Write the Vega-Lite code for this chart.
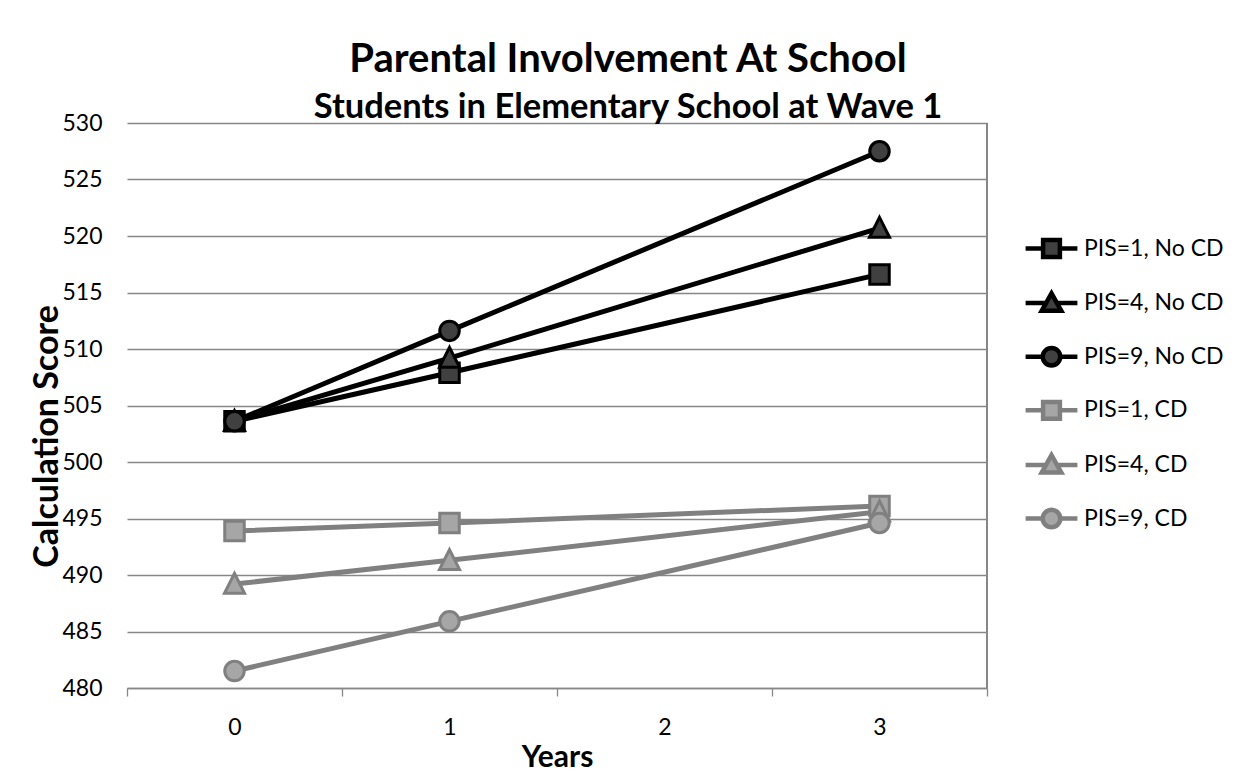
{
  "$schema": "https://vega.github.io/schema/vega-lite/v6.json",
  "width": 860,
  "height": 565,
  "autosize": {"type": "none"},
  "padding": {"left": 127, "top": 123, "right": 268, "bottom": 85},
  "background": "white",
  "title": {
    "text": "Parental Involvement At School",
    "subtitle": "Students in Elementary School at Wave 1",
    "anchor": "middle",
    "frame": "group",
    "dx": 71,
    "offset": -12,
    "font": "Lato",
    "fontSize": 40,
    "fontWeight": "bold",
    "color": "black",
    "subtitleFont": "Lato",
    "subtitleFontSize": 34.5,
    "subtitleFontWeight": "bold",
    "subtitleColor": "black",
    "subtitlePadding": 11
  },
  "data": {
    "values": [
      {"series": "PIS=1, No CD", "year": 0, "score": 503.6},
      {"series": "PIS=1, No CD", "year": 1, "score": 507.9},
      {"series": "PIS=1, No CD", "year": 3, "score": 516.6},
      {"series": "PIS=4, No CD", "year": 0, "score": 503.6},
      {"series": "PIS=4, No CD", "year": 1, "score": 509.2},
      {"series": "PIS=4, No CD", "year": 3, "score": 520.7},
      {"series": "PIS=9, No CD", "year": 0, "score": 503.6},
      {"series": "PIS=9, No CD", "year": 1, "score": 511.6},
      {"series": "PIS=9, No CD", "year": 3, "score": 527.5},
      {"series": "PIS=1, CD", "year": 0, "score": 493.9},
      {"series": "PIS=1, CD", "year": 1, "score": 494.6},
      {"series": "PIS=1, CD", "year": 3, "score": 496.1},
      {"series": "PIS=4, CD", "year": 0, "score": 489.2},
      {"series": "PIS=4, CD", "year": 1, "score": 491.3},
      {"series": "PIS=4, CD", "year": 3, "score": 495.6},
      {"series": "PIS=9, CD", "year": 0, "score": 481.5},
      {"series": "PIS=9, CD", "year": 1, "score": 485.9},
      {"series": "PIS=9, CD", "year": 3, "score": 494.6}
    ]
  },
  "encoding": {
    "x": {
      "field": "year",
      "type": "quantitative",
      "scale": {"domain": [-0.5, 3.5], "nice": false, "zero": false},
      "axis": {
        "title": "Years",
        "values": [-0.5, 0, 0.5, 1, 1.5, 2, 2.5, 3, 3.5],
        "labelExpr": "datum.value % 1 === 0 ? '' + datum.value : ''",
        "grid": false,
        "domainColor": "#878787",
        "domainWidth": 1.3,
        "tickColor": "#878787",
        "tickWidth": 1.3,
        "tickSize": 8,
        "tickOpacity": {"condition": {"test": "datum.value % 1 === 0", "value": 0}, "value": 1},
        "labelPadding": 20,
        "labelFont": "Lato",
        "labelFontSize": 23,
        "labelColor": "black",
        "labelFlush": false,
        "titleFont": "Lato",
        "titleFontSize": 30,
        "titleFontWeight": "bold",
        "titleColor": "black",
        "titlePadding": 3
      }
    },
    "y": {
      "field": "score",
      "type": "quantitative",
      "scale": {"domain": [480, 530], "nice": false, "zero": false},
      "axis": {
        "title": "Calculation Score",
        "values": [480, 485, 490, 495, 500, 505, 510, 515, 520, 525, 530],
        "grid": true,
        "gridColor": "#878787",
        "gridWidth": 1.3,
        "domain": false,
        "ticks": false,
        "labelPadding": 25,
        "labelFont": "Lato",
        "labelFontSize": 23,
        "labelColor": "black",
        "labelFlush": false,
        "titleFont": "Lato",
        "titleFontSize": 34,
        "titleFontWeight": "bold",
        "titleColor": "black",
        "titleX": -80,
        "titleY": 313,
        "titleAlign": "center",
        "titleBaseline": "middle"
      }
    }
  },
  "layer": [
    {
      "mark": {"type": "rule", "color": "#878787", "strokeWidth": 1.3},
      "encoding": {"x": {"datum": 3.5}, "y": {"datum": 480}, "y2": {"datum": 530}}
    },
    {
      "mark": {"type": "line", "strokeWidth": 5},
      "encoding": {
        "color": {
          "field": "series",
          "type": "nominal",
          "scale": {
            "domain": ["PIS=1, No CD", "PIS=4, No CD", "PIS=9, No CD", "PIS=1, CD", "PIS=4, CD", "PIS=9, CD"],
            "range": ["#000000", "#000000", "#000000", "#808080", "#808080", "#808080"]
          },
          "legend": {
            "title": null,
            "orient": "none",
            "legendX": 913,
            "legendY": 114,
            "padding": 0,
            "symbolSize": 196,
            "symbolStrokeWidth": 4,
            "labelFont": "Lato",
            "labelFontSize": 23,
            "labelColor": "black",
            "labelOffset": 21,
            "rowPadding": 17.6,
            "encode": {
              "symbols": {
                "update": {
                  "shape": {"signal": "indexof(datum.value, 'PIS=1') === 0 ? 'M-3.7,0H-1.2M1.2,0H3.7M-1.2,-1.2H1.2V1.2H-1.2Z' : indexof(datum.value, 'PIS=4') === 0 ? 'M-3.7,0H-0.75M0.75,0H3.7M0,-1.4L1.4,1.1L-1.4,1.1Z' : 'M-3.7,0H-1.25M1.25,0H3.7M-1.25,0A1.25,1.25,0,1,0,1.25,0A1.25,1.25,0,1,0,-1.25,0Z'"},
                  "fill": {"signal": "indexof(datum.value, 'No CD') >= 0 ? '#404040' : '#a6a6a6'"},
                  "strokeWidth": {"value": 4.5},
                  "size": {"value": 196},
                  "opacity": {"value": 1}
                }
              }
            }
          }
        }
      }
    },
    {
      "mark": {"type": "point", "filled": true, "strokeWidth": 3, "opacity": 1, "size": 380},
      "encoding": {
        "shape": {
          "field": "series",
          "type": "nominal",
          "scale": {
            "domain": ["PIS=9, CD", "PIS=4, CD", "PIS=1, CD", "PIS=9, No CD", "PIS=4, No CD", "PIS=1, No CD"],
            "range": ["circle", "M0,-1.1L1.03,0.95L-1.03,0.95Z", "square", "circle", "M0,-1.1L1.03,0.95L-1.03,0.95Z", "square"]
          },
          "legend": null
        },
        "fill": {
          "field": "series",
          "type": "nominal",
          "scale": {
            "domain": ["PIS=9, CD", "PIS=4, CD", "PIS=1, CD", "PIS=9, No CD", "PIS=4, No CD", "PIS=1, No CD"],
            "range": ["#a6a6a6", "#a6a6a6", "#a6a6a6", "#404040", "#404040", "#404040"]
          },
          "legend": null
        },
        "stroke": {
          "field": "series",
          "type": "nominal",
          "scale": {
            "domain": ["PIS=9, CD", "PIS=4, CD", "PIS=1, CD", "PIS=9, No CD", "PIS=4, No CD", "PIS=1, No CD"],
            "range": ["#808080", "#808080", "#808080", "#000000", "#000000", "#000000"]
          },
          "legend": null
        }
      }
    }
  ],
  "config": {
    "view": {"stroke": null},
    "font": "Lato"
  }
}
